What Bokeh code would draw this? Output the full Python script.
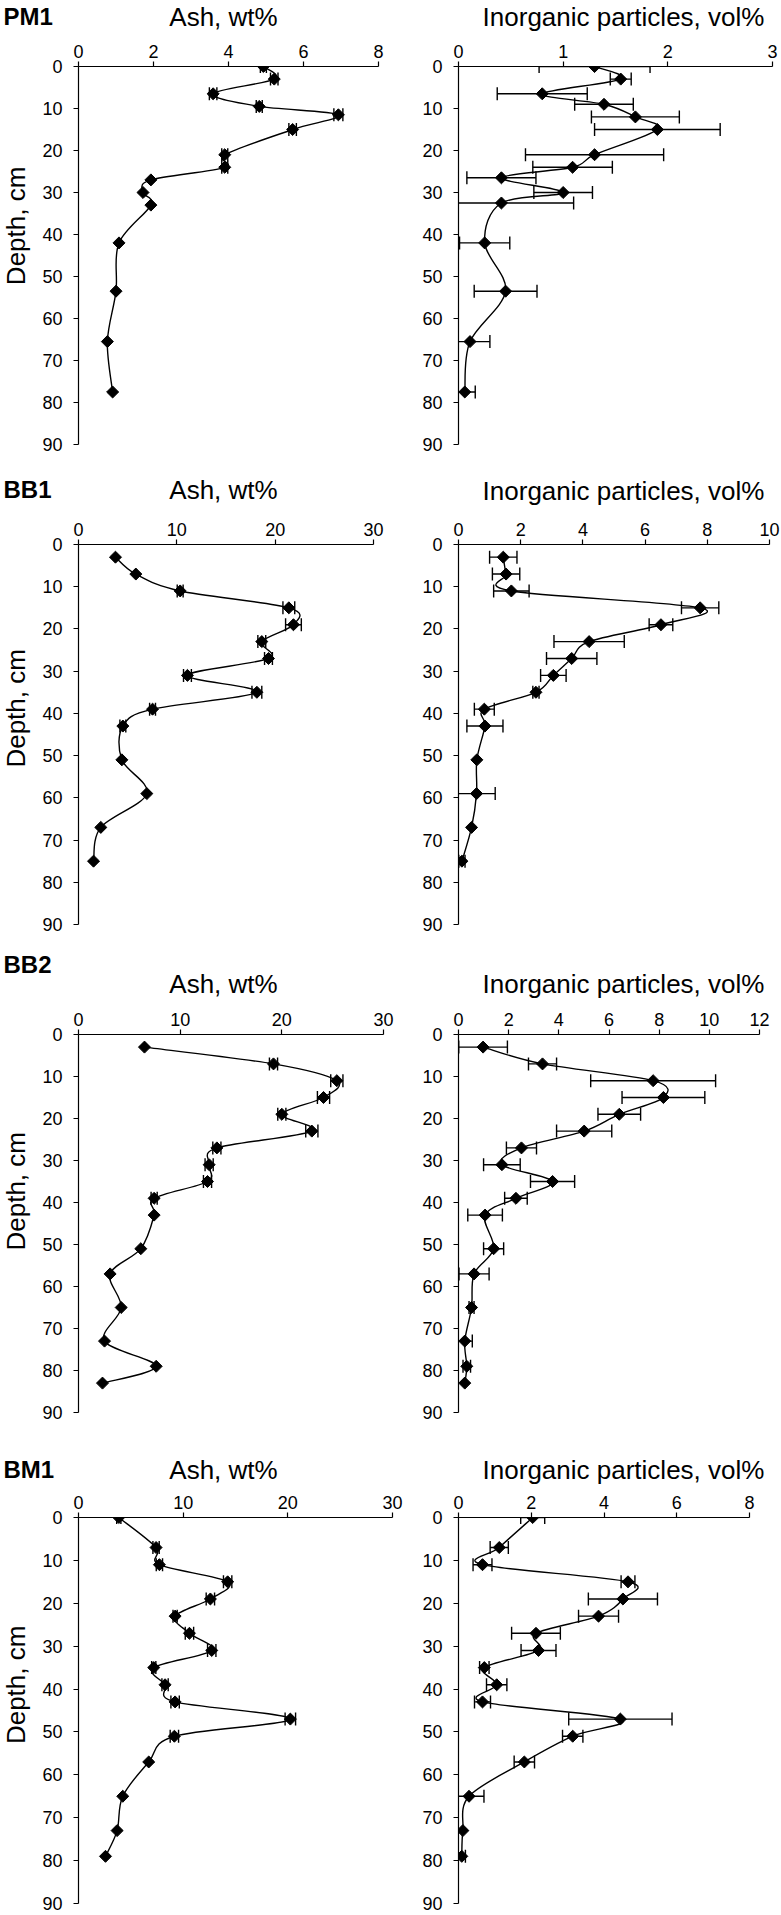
import numpy as np
from bokeh.plotting import figure
from bokeh.models import Range1d, FixedTicker, Whisker, TeeHead, ColumnDataSource
from bokeh.layouts import column, row
from bokeh.embed import file_html
from bokeh.resources import INLINE
from bokeh.core.properties import value

# ---------------- data ----------------
depth_ticks = [0, 10, 20, 30, 40, 50, 60, 70, 80, 90]
core_names = ["PM1", "BB1", "BB2", "BM1"]
ash_title = "Ash, wt%"
inorg_title = "Inorganic particles, vol%"
depth_title = "Depth, cm"

# PM1
pm1_ash_depth = [0, 3, 6.5, 9.5, 11.5, 15, 21, 24, 27, 30, 33, 42, 53.5, 65.5, 77.5]
pm1_ash = [4.93, 5.22, 3.59, 4.82, 6.93, 5.71, 3.9, 3.9, 1.93, 1.72, 1.93, 1.08, 1.0, 0.77, 0.91]
pm1_ash_err = [0.08, 0.1, 0.1, 0.08, 0.12, 0.1, 0.08, 0.08, 0, 0, 0, 0, 0, 0, 0]
pm1_inorg_depth = [0, 3, 6.5, 9, 12, 15, 21, 24, 26.5, 30, 32.5, 42, 53.5, 65.5, 77.5]
pm1_inorg = [1.30, 1.55, 0.80, 1.39, 1.69, 1.90, 1.30, 1.09, 0.41, 1.00, 0.41, 0.25, 0.45, 0.11, 0.06]
pm1_inorg_err = [0.53, 0.10, 0.43, 0.28, 0.42, 0.60, 0.66, 0.38, 0.33, 0.28, 0.69, 0.24, 0.30, 0.19, 0.10]
pm1_ash_ticks = [0, 2, 4, 6, 8]
pm1_inorg_ticks = [0, 1, 2, 3]

# BB1
bb1_depth = [3, 7, 11, 15, 19, 23, 27, 31, 35, 39, 43, 51, 59, 67, 75]
bb1_ash = [3.76, 5.83, 10.34, 21.39, 21.86, 18.64, 19.32, 11.08, 18.14, 7.53, 4.51, 4.41, 6.95, 2.27, 1.53]
bb1_ash_err = [0, 0, 0.3, 0.6, 0.8, 0.4, 0.4, 0.4, 0.5, 0.3, 0.3, 0, 0, 0, 0]
bb1_inorg = [1.44, 1.53, 1.70, 7.77, 6.51, 4.20, 3.64, 3.05, 2.49, 0.83, 0.85, 0.59, 0.58, 0.42, 0.11]
bb1_inorg_err = [0.44, 0.44, 0.57, 0.60, 0.38, 1.13, 0.81, 0.41, 0.10, 0.32, 0.58, 0, 0.60, 0, 0.10]
bb1_ash_ticks = [0, 10, 20, 30]
bb1_inorg_ticks = [0, 2, 4, 6, 8, 10]

# BB2
bb2_depth = [3, 7, 11, 15, 19, 23, 27, 31, 35, 39, 43, 51, 57, 65, 73, 79, 83]
bb2_ash = [6.49, 19.18, 25.41, 24.1, 20.0, 22.95, 13.61, 12.85, 12.69, 7.44, 7.44, 6.13, 3.11, 4.20, 2.56, 7.64, 2.36]
bb2_ash_err = [0, 0.4, 0.6, 0.6, 0.4, 0.6, 0.4, 0.4, 0.4, 0.3, 0, 0, 0, 0, 0, 0, 0]
bb2_inorg = [0.98, 3.35, 7.76, 8.17, 6.41, 5.01, 2.51, 1.73, 3.75, 2.29, 1.06, 1.40, 0.62, 0.52, 0.25, 0.33, 0.25]
bb2_inorg_err = [0.97, 0.56, 2.49, 1.65, 0.85, 1.10, 0.60, 0.73, 0.88, 0.45, 0.69, 0.40, 0.60, 0.10, 0.30, 0.15, 0]
bb2_ash_ticks = [0, 10, 20, 30]
bb2_inorg_ticks = [0, 2, 4, 6, 8, 10, 12]

# BM1
bm1_depth = [0, 7, 11, 15, 19, 23, 27, 31, 35, 39, 43, 47, 51, 57, 65, 73, 79]
bm1_ash = [3.85, 7.41, 7.73, 14.25, 12.6, 9.23, 10.6, 12.73, 7.19, 8.27, 9.23, 20.24, 9.16, 6.71, 4.23, 3.69, 2.58]
bm1_ash_err = [0.2, 0.3, 0.3, 0.4, 0.4, 0.2, 0.4, 0.4, 0.2, 0.3, 0.4, 0.5, 0.4, 0, 0, 0, 0]
bm1_inorg = [2.04, 1.12, 0.66, 4.66, 4.52, 3.85, 2.13, 2.20, 0.71, 1.05, 0.66, 4.45, 3.14, 1.81, 0.29, 0.12, 0.09]
bm1_inorg_err = [0.33, 0.25, 0.26, 0.19, 0.95, 0.55, 0.67, 0.48, 0.13, 0.28, 0.22, 1.42, 0.28, 0.28, 0.41, 0, 0.10]
bm1_ash_ticks = [0, 10, 20, 30]
bm1_inorg_ticks = [0, 2, 4, 6, 8]

# ---------------- layout (page pixels; the page renders with no body margin) ----------------
FONT = "Liberation Sans"
INK = "black"
TOTAL_W = 781
DEPTH_X, DEPTH_W = 0, 38
LEFT_X, LEFT_W = 38, 372
RIGHT_X, RIGHT_W = 410, 371
strip_tops = [0, 468, 944, 1446]
strip_heights = [34, 40, 56, 40]
fig_tops = [34, 508, 1000, 1486]
fig_heights = [434, 436, 446, 429]
frame_tops = [66, 544, 1034, 1517]
frame_heights = [378, 380, 378, 386]
left_frame_x = 78
left_frame_w = [300, 295, 305, 314]
right_frame_x = 458
right_frame_w = [314, 311, 301, 291]
core_label_y = [16, 489, 963.5, 1469]
ash_title_y = [16, 489, 983.5, 1469]
inorg_title_y = [16, 490, 983.5, 1469]
core_label_x = 3
ash_title_x = 223
inorg_title_x = 623
depth_label_x = 15
depth_label_shift = 38


def smooth(xs, ys):
    x = np.asarray(xs, float)
    y = np.asarray(ys, float)
    n = len(x)
    xp = np.concatenate([[x[0]], x, [x[-1]]])
    yp = np.concatenate([[y[0]], y, [y[-1]]])
    cx0 = x[:-1] + (xp[2:n + 1] - xp[0:n - 1]) / 6.0
    cy0 = y[:-1] + (yp[2:n + 1] - yp[0:n - 1]) / 6.0
    cx1 = x[1:] - (xp[3:n + 2] - xp[1:n]) / 6.0
    cy1 = y[1:] - (yp[3:n + 2] - yp[1:n]) / 6.0
    return dict(x0=x[:-1], y0=y[:-1], x1=x[1:], y1=y[1:], cx0=cx0, cy0=cy0, cx1=cx1, cy1=cy1)


def blank_fig(w, h, flip_y):
    p = figure(width=w, height=h, x_range=Range1d(0, w),
               y_range=Range1d(h, 0) if flip_y else Range1d(0, h), title=None,
               x_axis_type=None, y_axis_type=None, toolbar_location=None, output_backend="svg",
               min_border=0, min_border_left=0, min_border_right=0, min_border_top=0,
               min_border_bottom=0)
    p.outline_line_color = None
    p.background_fill_color = "white"
    p.border_fill_color = "white"
    return p


def title_strip(i):
    h = strip_heights[i]
    top = strip_tops[i]
    p = blank_fig(TOTAL_W, h, True)
    p.text(x=[core_label_x], y=[core_label_y[i] - top], text=[core_names[i]],
           text_font=value(FONT), text_font_size=value("24px"), text_font_style=value("bold"),
           text_color=INK, text_align=value("left"), text_baseline=value("middle"))
    p.text(x=[ash_title_x, inorg_title_x],
           y=[ash_title_y[i] - top, inorg_title_y[i] - top], text=[ash_title, inorg_title],
           text_font=value(FONT), text_font_size=value("26px"), text_font_style=value("normal"),
           text_color=INK, text_align=value("center"), text_baseline=value("middle"))
    return p


def depth_strip(i):
    h = fig_heights[i]
    p = blank_fig(DEPTH_W, h, False)
    cy = frame_tops[i] + frame_heights[i] / 2 - depth_label_shift
    p.text(x=[depth_label_x - DEPTH_X], y=[h - (cy - fig_tops[i])], text=[depth_title],
           angle=np.pi / 2, text_font=value(FONT), text_font_size=value("26px"),
           text_color=INK, text_align=value("center"), text_baseline=value("middle"))
    return p


def make_panel(i, is_left, vals, depths, errs, ticks):
    fx = LEFT_X if is_left else RIGHT_X
    fw_total = LEFT_W if is_left else RIGHT_W
    frame_left = left_frame_x if is_left else right_frame_x
    bl = frame_left - fx
    fw = left_frame_w[i] if is_left else right_frame_w[i]
    fh_total = fig_heights[i]
    bt = frame_tops[i] - fig_tops[i]
    fh = frame_heights[i]
    p = figure(width=fw_total, height=fh_total, title=None,
               x_range=Range1d(ticks[0], ticks[-1]), y_range=Range1d(90, 0),
               x_axis_location="above", toolbar_location=None, output_backend="svg",
               min_border_left=bl, min_border_right=fw_total - bl - fw,
               min_border_top=bt, min_border_bottom=fh_total - bt - fh)
    p.outline_line_color = None
    p.xgrid.visible = False
    p.ygrid.visible = False
    p.background_fill_color = "white"
    p.border_fill_color = "white"

    xa = p.xaxis[0]
    xa.ticker = FixedTicker(ticks=ticks)
    ya = p.yaxis[0]
    ya.ticker = FixedTicker(ticks=depth_ticks)
    for ax, so in ((xa, 4), (ya, 11)):
        ax.axis_line_color = INK
        ax.axis_line_width = 1.2
        ax.major_tick_line_color = INK
        ax.major_tick_line_width = 1.2
        ax.major_tick_out = 5
        ax.major_tick_in = 0
        ax.minor_tick_out = 0
        ax.minor_tick_in = 0
        ax.major_label_standoff = so
        ax.major_label_text_font = FONT
        ax.major_label_text_font_size = "18px"
        ax.major_label_text_color = INK

    # smoothed line through the points
    seg = ColumnDataSource(smooth(vals, depths))
    p.bezier(x0="x0", y0="y0", x1="x1", y1="y1", cx0="cx0", cy0="cy0", cx1="cx1", cy1="cy1",
             source=seg, line_color=INK, line_width=1.4)

    # horizontal error bars
    lo, hi, base = [], [], []
    for v, d, e in zip(vals, depths, errs):
        if e > 0:
            lo.append(v - e)
            hi.append(v + e)
            base.append(d)
    if base:
        wsrc = ColumnDataSource(dict(base=base, lower=lo, upper=hi))
        w = Whisker(base="base", lower="lower", upper="upper", dimension="width", source=wsrc,
                    line_color=INK, line_width=1.4,
                    lower_head=TeeHead(size=13, line_color=INK, line_width=1.4),
                    upper_head=TeeHead(size=13, line_color=INK, line_width=1.4))
        p.add_layout(w)

    # diamond markers
    p.scatter(x=vals, y=depths, marker="square", angle=np.pi / 4, size=8.5,
              fill_color=INK, line_color=INK, line_width=1)
    return p


specs = [
    (pm1_ash, pm1_ash_depth, pm1_ash_err, pm1_ash_ticks, pm1_inorg, pm1_inorg_depth, pm1_inorg_err, pm1_inorg_ticks),
    (bb1_ash, bb1_depth, bb1_ash_err, bb1_ash_ticks, bb1_inorg, bb1_depth, bb1_inorg_err, bb1_inorg_ticks),
    (bb2_ash, bb2_depth, bb2_ash_err, bb2_ash_ticks, bb2_inorg, bb2_depth, bb2_inorg_err, bb2_inorg_ticks),
    (bm1_ash, bm1_depth, bm1_ash_err, bm1_ash_ticks, bm1_inorg, bm1_depth, bm1_inorg_err, bm1_inorg_ticks),
]
blocks = []
for i, (a, ad, ae, at, g, gd, ge, gt) in enumerate(specs):
    left = make_panel(i, True, a, ad, ae, at)
    right = make_panel(i, False, g, gd, ge, gt)
    blocks.append(title_strip(i))
    blocks.append(row(depth_strip(i), left, right, spacing=0))

layout = column(*blocks, spacing=0)
open("out.html", "w").write(file_html(layout, INLINE))
